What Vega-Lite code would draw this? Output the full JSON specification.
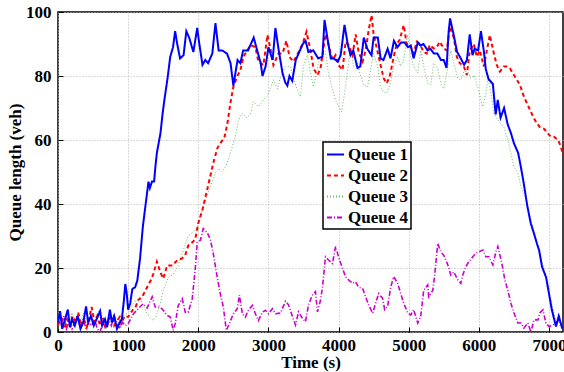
{
  "$schema": "https://vega.github.io/schema/vega-lite/v6.json",
  "width": 505,
  "height": 320,
  "autosize": "none",
  "padding": {"left": 58, "top": 12, "right": 1, "bottom": 40},
  "background": "white",
  "datasets": {
    "q1": [
      {"t":0,"v":3},{"t":30,"v":6.5},{"t":60,"v":1},{"t":100,"v":4},{"t":140,"v":7},{"t":170,"v":1.5},{"t":200,"v":4},{"t":240,"v":2},{"t":280,"v":5},{"t":320,"v":1},{"t":360,"v":3},{"t":400,"v":8},{"t":430,"v":3},{"t":470,"v":5},{"t":510,"v":2},{"t":550,"v":4},{"t":600,"v":6.5},{"t":630,"v":2},{"t":670,"v":4},{"t":700,"v":1.5},{"t":740,"v":7},{"t":770,"v":3},{"t":800,"v":5},{"t":840,"v":1},{"t":880,"v":3},{"t":910,"v":4},{"t":940,"v":10},{"t":960,"v":15},{"t":980,"v":12},{"t":1000,"v":7},{"t":1030,"v":9},{"t":1060,"v":13.5},{"t":1100,"v":14},{"t":1130,"v":16},{"t":1170,"v":23},{"t":1210,"v":33},{"t":1250,"v":40},{"t":1290,"v":47},{"t":1310,"v":45},{"t":1340,"v":47},{"t":1370,"v":47},{"t":1390,"v":52},{"t":1410,"v":56},{"t":1460,"v":62},{"t":1490,"v":68},{"t":1520,"v":73},{"t":1560,"v":79},{"t":1600,"v":86},{"t":1640,"v":89},{"t":1670,"v":94},{"t":1700,"v":90},{"t":1740,"v":85.5},{"t":1790,"v":86.5},{"t":1830,"v":94},{"t":1870,"v":92},{"t":1930,"v":87.5},{"t":1985,"v":95},{"t":2015,"v":90},{"t":2060,"v":83.5},{"t":2100,"v":85},{"t":2140,"v":84},{"t":2200,"v":87},{"t":2245,"v":96.5},{"t":2290,"v":88},{"t":2340,"v":88},{"t":2410,"v":87},{"t":2460,"v":84},{"t":2500,"v":77},{"t":2560,"v":85},{"t":2600,"v":84},{"t":2640,"v":88},{"t":2710,"v":88},{"t":2790,"v":92},{"t":2840,"v":88},{"t":2890,"v":84},{"t":2915,"v":80},{"t":2960,"v":83},{"t":3000,"v":89},{"t":3060,"v":85},{"t":3100,"v":95},{"t":3140,"v":89},{"t":3200,"v":81},{"t":3240,"v":78},{"t":3270,"v":77},{"t":3300,"v":80},{"t":3340,"v":78.5},{"t":3390,"v":85},{"t":3430,"v":87},{"t":3490,"v":90},{"t":3530,"v":91},{"t":3570,"v":87.5},{"t":3640,"v":88},{"t":3710,"v":85.5},{"t":3770,"v":86},{"t":3800,"v":97.5},{"t":3840,"v":92},{"t":3890,"v":85.5},{"t":3930,"v":85.5},{"t":3990,"v":84.5},{"t":4030,"v":86.5},{"t":4085,"v":96},{"t":4130,"v":90},{"t":4170,"v":86.5},{"t":4210,"v":88},{"t":4270,"v":82.5},{"t":4310,"v":83},{"t":4360,"v":92},{"t":4410,"v":88.5},{"t":4470,"v":86.5},{"t":4500,"v":92},{"t":4560,"v":92},{"t":4600,"v":85.5},{"t":4640,"v":85},{"t":4700,"v":88.5},{"t":4740,"v":85.5},{"t":4790,"v":91},{"t":4840,"v":89},{"t":4890,"v":90.5},{"t":4940,"v":90.5},{"t":4990,"v":89},{"t":5030,"v":89.5},{"t":5070,"v":85.5},{"t":5130,"v":90.5},{"t":5170,"v":89.5},{"t":5210,"v":90},{"t":5270,"v":88},{"t":5310,"v":88.5},{"t":5360,"v":87},{"t":5410,"v":87},{"t":5460,"v":85},{"t":5500,"v":85},{"t":5540,"v":82.5},{"t":5570,"v":94},{"t":5590,"v":98},{"t":5640,"v":93},{"t":5690,"v":87.5},{"t":5730,"v":86},{"t":5790,"v":83.5},{"t":5830,"v":85},{"t":5870,"v":93},{"t":5910,"v":86.5},{"t":5940,"v":88.5},{"t":5990,"v":88},{"t":6030,"v":94},{"t":6070,"v":88},{"t":6100,"v":82},{"t":6140,"v":79},{"t":6200,"v":77.5},{"t":6240,"v":68},{"t":6270,"v":72.5},{"t":6310,"v":67},{"t":6360,"v":70},{"t":6410,"v":65},{"t":6460,"v":62},{"t":6500,"v":59},{"t":6560,"v":56},{"t":6600,"v":51.5},{"t":6640,"v":46.5},{"t":6690,"v":39.5},{"t":6740,"v":34},{"t":6790,"v":30.5},{"t":6830,"v":27.5},{"t":6860,"v":25.5},{"t":6900,"v":20.5},{"t":6960,"v":17},{"t":7000,"v":12},{"t":7040,"v":7},{"t":7100,"v":1.7},{"t":7140,"v":5},{"t":7190,"v":1}
    ],
    "q2": [
      {"t":0,"v":2},{"t":30,"v":5.5},{"t":60,"v":3},{"t":100,"v":1},{"t":130,"v":4},{"t":170,"v":2},{"t":210,"v":5},{"t":250,"v":3},{"t":290,"v":6},{"t":330,"v":2},{"t":370,"v":4},{"t":410,"v":1.5},{"t":450,"v":5},{"t":480,"v":7.8},{"t":520,"v":3},{"t":560,"v":5},{"t":600,"v":2},{"t":640,"v":4.5},{"t":680,"v":1},{"t":720,"v":3.5},{"t":760,"v":5},{"t":800,"v":2},{"t":840,"v":3.5},{"t":880,"v":4.7},{"t":900,"v":2.6},{"t":950,"v":5},{"t":1000,"v":4.7},{"t":1040,"v":6},{"t":1076,"v":7.3},{"t":1110,"v":8},{"t":1145,"v":10},{"t":1200,"v":11},{"t":1270,"v":14},{"t":1320,"v":16},{"t":1357,"v":18},{"t":1410,"v":22},{"t":1440,"v":20},{"t":1457,"v":18.8},{"t":1500,"v":16.7},{"t":1557,"v":20.8},{"t":1630,"v":20.8},{"t":1700,"v":22.4},{"t":1770,"v":23},{"t":1814,"v":24},{"t":1857,"v":27},{"t":1914,"v":28},{"t":1957,"v":29},{"t":2000,"v":34},{"t":2057,"v":38},{"t":2100,"v":42},{"t":2143,"v":46},{"t":2214,"v":52.8},{"t":2271,"v":57.4},{"t":2314,"v":59},{"t":2371,"v":60.6},{"t":2414,"v":65},{"t":2457,"v":71.4},{"t":2500,"v":76.6},{"t":2557,"v":80},{"t":2600,"v":81.8},{"t":2643,"v":86},{"t":2700,"v":88},{"t":2743,"v":89.7},{"t":2814,"v":89},{"t":2857,"v":84.5},{"t":2929,"v":83.4},{"t":2986,"v":92.8},{"t":3029,"v":88.5},{"t":3071,"v":83.4},{"t":3143,"v":87},{"t":3200,"v":87},{"t":3257,"v":91},{"t":3300,"v":86},{"t":3357,"v":84.5},{"t":3430,"v":87.5},{"t":3486,"v":90},{"t":3543,"v":93.8},{"t":3600,"v":88},{"t":3643,"v":82.4},{"t":3700,"v":80.3},{"t":3743,"v":82.4},{"t":3814,"v":93},{"t":3857,"v":89.7},{"t":3914,"v":85},{"t":3957,"v":86.5},{"t":4000,"v":83.4},{"t":4057,"v":81.9},{"t":4100,"v":90.7},{"t":4143,"v":89.7},{"t":4200,"v":86.5},{"t":4243,"v":93},{"t":4286,"v":87.5},{"t":4343,"v":84.5},{"t":4386,"v":88},{"t":4429,"v":94.3},{"t":4471,"v":99},{"t":4500,"v":93},{"t":4557,"v":87.5},{"t":4600,"v":83.4},{"t":4643,"v":79.3},{"t":4686,"v":77.7},{"t":4729,"v":79.8},{"t":4786,"v":86},{"t":4829,"v":90},{"t":4871,"v":91.3},{"t":4929,"v":95.9},{"t":4971,"v":90},{"t":5014,"v":90},{"t":5071,"v":87},{"t":5114,"v":90.7},{"t":5157,"v":90},{"t":5214,"v":87.5},{"t":5257,"v":87},{"t":5300,"v":89.7},{"t":5357,"v":88.6},{"t":5400,"v":89},{"t":5443,"v":90.7},{"t":5500,"v":88.6},{"t":5543,"v":88},{"t":5586,"v":95.4},{"t":5643,"v":92},{"t":5686,"v":86},{"t":5729,"v":84},{"t":5786,"v":83},{"t":5829,"v":80.3},{"t":5871,"v":88},{"t":5929,"v":90},{"t":5971,"v":86},{"t":6014,"v":88},{"t":6071,"v":83},{"t":6114,"v":88},{"t":6157,"v":92.8},{"t":6214,"v":87},{"t":6257,"v":83.4},{"t":6300,"v":81.4},{"t":6357,"v":83},{"t":6400,"v":83},{"t":6443,"v":82.4},{"t":6500,"v":80.3},{"t":6543,"v":78.8},{"t":6586,"v":77.2},{"t":6643,"v":73.5},{"t":6686,"v":71.5},{"t":6729,"v":69.4},{"t":6786,"v":66.8},{"t":6829,"v":65.2},{"t":6871,"v":64},{"t":6929,"v":63.5},{"t":6986,"v":62},{"t":7029,"v":61},{"t":7071,"v":61},{"t":7129,"v":60},{"t":7171,"v":57.9},{"t":7200,"v":55.3}
    ],
    "q3": [
      {"t":0,"v":1},{"t":40,"v":4},{"t":80,"v":2},{"t":120,"v":5},{"t":160,"v":3},{"t":200,"v":6},{"t":240,"v":2.5},{"t":280,"v":5.5},{"t":320,"v":3},{"t":360,"v":6},{"t":400,"v":4},{"t":440,"v":2},{"t":480,"v":5},{"t":520,"v":3},{"t":560,"v":6},{"t":600,"v":7},{"t":640,"v":4},{"t":680,"v":2},{"t":720,"v":5},{"t":760,"v":3},{"t":800,"v":4.5},{"t":840,"v":2},{"t":880,"v":4},{"t":920,"v":3},{"t":960,"v":5.5},{"t":1000,"v":6},{"t":1076,"v":8.8},{"t":1120,"v":10},{"t":1170,"v":11},{"t":1220,"v":8},{"t":1270,"v":5.7},{"t":1310,"v":4.5},{"t":1357,"v":3.6},{"t":1400,"v":5},{"t":1457,"v":8.8},{"t":1500,"v":13},{"t":1571,"v":17},{"t":1643,"v":18},{"t":1714,"v":20.8},{"t":1786,"v":25.5},{"t":1857,"v":30},{"t":1914,"v":31},{"t":1985,"v":32.8},{"t":2029,"v":36.5},{"t":2071,"v":39},{"t":2114,"v":41.7},{"t":2160,"v":45},{"t":2200,"v":47},{"t":2250,"v":50},{"t":2290,"v":51},{"t":2343,"v":50},{"t":2414,"v":52.8},{"t":2457,"v":56},{"t":2529,"v":61},{"t":2571,"v":66},{"t":2629,"v":68.4},{"t":2686,"v":67},{"t":2743,"v":68},{"t":2786,"v":72},{"t":2857,"v":70.4},{"t":2929,"v":72.5},{"t":2986,"v":74},{"t":3029,"v":76},{"t":3071,"v":78.8},{"t":3129,"v":76},{"t":3171,"v":79.8},{"t":3243,"v":82.9},{"t":3314,"v":83},{"t":3360,"v":79},{"t":3414,"v":75.6},{"t":3457,"v":73.5},{"t":3500,"v":83},{"t":3557,"v":86.6},{"t":3600,"v":81},{"t":3643,"v":76.6},{"t":3714,"v":84},{"t":3814,"v":87.6},{"t":3857,"v":80.8},{"t":3914,"v":75.6},{"t":3957,"v":72.5},{"t":4000,"v":70.4},{"t":4043,"v":68.8},{"t":4086,"v":74.6},{"t":4129,"v":81.9},{"t":4171,"v":88},{"t":4214,"v":83},{"t":4271,"v":84},{"t":4314,"v":80},{"t":4357,"v":77.2},{"t":4414,"v":76.6},{"t":4457,"v":81.9},{"t":4500,"v":87},{"t":4557,"v":83},{"t":4600,"v":76.6},{"t":4643,"v":75},{"t":4686,"v":74.6},{"t":4743,"v":78},{"t":4786,"v":83},{"t":4843,"v":86},{"t":4886,"v":83},{"t":4929,"v":85},{"t":4986,"v":93},{"t":5029,"v":86},{"t":5071,"v":83},{"t":5129,"v":81},{"t":5171,"v":88},{"t":5214,"v":83},{"t":5271,"v":77.7},{"t":5314,"v":77.2},{"t":5357,"v":84},{"t":5414,"v":82.4},{"t":5457,"v":77.7},{"t":5500,"v":76},{"t":5557,"v":82.9},{"t":5600,"v":88},{"t":5643,"v":84},{"t":5700,"v":79.3},{"t":5743,"v":78.8},{"t":5786,"v":81.4},{"t":5843,"v":81.4},{"t":5886,"v":79.3},{"t":5929,"v":80.3},{"t":5986,"v":76.6},{"t":6029,"v":72.5},{"t":6057,"v":70.4},{"t":6100,"v":74.6},{"t":6129,"v":79.3},{"t":6171,"v":75},{"t":6214,"v":68.4},{"t":6271,"v":66.3},{"t":6314,"v":65},{"t":6357,"v":64},{"t":6414,"v":60},{"t":6457,"v":55.8},{"t":6500,"v":51.7},{"t":6557,"v":49.6},{"t":6600,"v":45.4},{"t":6671,"v":42},{"t":6730,"v":36},{"t":6790,"v":31},{"t":6850,"v":26},{"t":6900,"v":22},{"t":6960,"v":17},{"t":7000,"v":13},{"t":7050,"v":8},{"t":7100,"v":3},{"t":7150,"v":2},{"t":7190,"v":3}
    ],
    "q4": [
      {"t":0,"v":4},{"t":40,"v":2},{"t":80,"v":5},{"t":120,"v":1},{"t":160,"v":3.5},{"t":200,"v":1},{"t":240,"v":3},{"t":280,"v":5},{"t":320,"v":2},{"t":360,"v":4},{"t":400,"v":1},{"t":440,"v":3},{"t":480,"v":2},{"t":520,"v":4},{"t":560,"v":1},{"t":600,"v":0},{"t":640,"v":3},{"t":680,"v":1.5},{"t":720,"v":4},{"t":760,"v":2},{"t":800,"v":5},{"t":840,"v":3},{"t":880,"v":1},{"t":920,"v":3},{"t":960,"v":2},{"t":1000,"v":2.6},{"t":1076,"v":5.7},{"t":1145,"v":7.3},{"t":1214,"v":8.8},{"t":1270,"v":7.5},{"t":1343,"v":11},{"t":1386,"v":7.8},{"t":1457,"v":7.8},{"t":1500,"v":6.8},{"t":1557,"v":5.2},{"t":1600,"v":4.7},{"t":1643,"v":0.5},{"t":1671,"v":2.6},{"t":1714,"v":8.3},{"t":1771,"v":10.4},{"t":1814,"v":6.2},{"t":1857,"v":6.2},{"t":1914,"v":10.4},{"t":1957,"v":19.8},{"t":1985,"v":28},{"t":2029,"v":28.6},{"t":2071,"v":32.3},{"t":2129,"v":31},{"t":2171,"v":29},{"t":2214,"v":24.5},{"t":2271,"v":17},{"t":2314,"v":12},{"t":2357,"v":7.8},{"t":2400,"v":0.5},{"t":2443,"v":2.6},{"t":2500,"v":5.7},{"t":2557,"v":7.3},{"t":2586,"v":11.5},{"t":2629,"v":5.7},{"t":2671,"v":4.7},{"t":2714,"v":6.8},{"t":2771,"v":8.3},{"t":2814,"v":5.7},{"t":2857,"v":3.6},{"t":2914,"v":6.2},{"t":2957,"v":6.8},{"t":3000,"v":5.7},{"t":3057,"v":7.3},{"t":3100,"v":5.7},{"t":3171,"v":5.9},{"t":3243,"v":9.6},{"t":3286,"v":8.5},{"t":3343,"v":4.8},{"t":3386,"v":2.2},{"t":3429,"v":6.3},{"t":3486,"v":4.2},{"t":3529,"v":3.2},{"t":3571,"v":8.5},{"t":3629,"v":11.6},{"t":3671,"v":12.6},{"t":3700,"v":6.3},{"t":3743,"v":10},{"t":3771,"v":14},{"t":3814,"v":23.5},{"t":3857,"v":22.5},{"t":3914,"v":21.4},{"t":3957,"v":26.7},{"t":4000,"v":23.5},{"t":4057,"v":19.8},{"t":4100,"v":17.3},{"t":4143,"v":16.3},{"t":4200,"v":15.2},{"t":4243,"v":15.7},{"t":4286,"v":14},{"t":4343,"v":13.6},{"t":4386,"v":11},{"t":4429,"v":8.5},{"t":4486,"v":5.9},{"t":4529,"v":9},{"t":4571,"v":12},{"t":4629,"v":10.5},{"t":4657,"v":7},{"t":4700,"v":8},{"t":4743,"v":14},{"t":4786,"v":17.3},{"t":4843,"v":15.2},{"t":4886,"v":12},{"t":4929,"v":9},{"t":4986,"v":6},{"t":5029,"v":5.3},{"t":5071,"v":7},{"t":5129,"v":2.8},{"t":5171,"v":4.8},{"t":5214,"v":13},{"t":5271,"v":14.7},{"t":5286,"v":11},{"t":5343,"v":13},{"t":5371,"v":17.8},{"t":5414,"v":27.7},{"t":5457,"v":25},{"t":5500,"v":24},{"t":5557,"v":21},{"t":5600,"v":17.8},{"t":5643,"v":18.8},{"t":5700,"v":16.3},{"t":5743,"v":15.2},{"t":5771,"v":17.8},{"t":5814,"v":20.4},{"t":5857,"v":22},{"t":5914,"v":23.5},{"t":5957,"v":24.6},{"t":6000,"v":25},{"t":6057,"v":25.6},{"t":6100,"v":23.5},{"t":6143,"v":23.5},{"t":6200,"v":21},{"t":6243,"v":25},{"t":6271,"v":26.7},{"t":6329,"v":21.4},{"t":6371,"v":16.3},{"t":6414,"v":13},{"t":6457,"v":9},{"t":6500,"v":6},{"t":6557,"v":2.8},{"t":6600,"v":2.8},{"t":6643,"v":1.2},{"t":6700,"v":2.8},{"t":6743,"v":0},{"t":6786,"v":3.8},{"t":6843,"v":3.8},{"t":6871,"v":6},{"t":6914,"v":6.9},{"t":6957,"v":2.8},{"t":7000,"v":1.7},{"t":7057,"v":2.2},{"t":7100,"v":2.8},{"t":7143,"v":3.8},{"t":7186,"v":1.7}
    ]
  },
  "encoding": {
    "x": {
      "field": "t",
      "type": "quantitative",
      "scale": {"domain": [0, 7200], "nice": false, "zero": false},
      "axis": {"title": "Time (s)", "format": "d", "values": [0, 1000, 2000, 3000, 4000, 5000, 6000, 7000], "labelPadding": 10, "titlePadding": 1}
    },
    "y": {
      "field": "v",
      "type": "quantitative",
      "scale": {"domain": [0, 100], "nice": false},
      "axis": {"title": "Queue length (veh)", "format": "d", "values": [0, 20, 40, 60, 80, 100], "titlePadding": 1}
    }
  },
  "layer": [
    {
      "data": {"name": "q3"},
      "mark": {"type": "line", "strokeWidth": 1, "clip": true},
      "encoding": {
        "color": {"datum": "Queue 3", "type": "nominal"},
        "strokeDash": {"datum": "Queue 3", "type": "nominal"}
      }
    },
    {
      "data": {"name": "q4"},
      "mark": {"type": "line", "strokeWidth": 1.6, "clip": true},
      "encoding": {
        "color": {"datum": "Queue 4", "type": "nominal"},
        "strokeDash": {"datum": "Queue 4", "type": "nominal"}
      }
    },
    {
      "data": {"name": "q2"},
      "mark": {"type": "line", "strokeWidth": 2, "clip": true},
      "encoding": {
        "color": {"datum": "Queue 2", "type": "nominal"},
        "strokeDash": {"datum": "Queue 2", "type": "nominal"}
      }
    },
    {
      "data": {"name": "q1"},
      "mark": {"type": "line", "strokeWidth": 2, "clip": true},
      "encoding": {
        "color": {
          "datum": "Queue 1",
          "type": "nominal",
          "scale": {"domain": ["Queue 1", "Queue 2", "Queue 3", "Queue 4"], "range": ["#0000ff", "#ff0000", "#66bb66", "#cc00cc"]},
          "legend": {"orient": "none", "legendX": 265, "legendY": 130, "title": null}
        },
        "strokeDash": {
          "datum": "Queue 1",
          "type": "nominal",
          "scale": {"domain": ["Queue 1", "Queue 2", "Queue 3", "Queue 4"], "range": [[1, 0], [4, 3], [1, 2], [5, 2, 1, 2]]},
          "legend": {"orient": "none", "legendX": 265, "legendY": 130, "title": null}
        }
      }
    }
  ],
  "config": {
    "font": "Liberation Serif",
    "view": {"stroke": "black", "strokeWidth": 1.5},
    "axis": {
      "domain": false,
      "grid": true,
      "gridColor": "#b5b5b5",
      "gridDash": [1, 2],
      "gridWidth": 1,
      "ticks": true,
      "tickColor": "black",
      "tickSize": -5,
      "labelPadding": 12,
      "labelFont": "Liberation Serif",
      "labelFontWeight": "bold",
      "labelFontSize": 17,
      "labelColor": "black",
      "titleFont": "Liberation Serif",
      "titleFontWeight": "bold",
      "titleFontSize": 17,
      "titleColor": "black",
      "labelFlush": false,
      "labelOverlap": false
    },
    "legend": {
      "strokeColor": "black",
      "strokeWidth": 1.5,
      "fillColor": "white",
      "padding": 3,
      "cornerRadius": 0,
      "labelFont": "Liberation Serif",
      "labelFontWeight": "bold",
      "labelFontSize": 17,
      "labelColor": "black",
      "labelOffset": 3,
      "symbolType": "stroke",
      "symbolSize": 289,
      "symbolStrokeWidth": 2,
      "rowPadding": 3
    }
  }
}
